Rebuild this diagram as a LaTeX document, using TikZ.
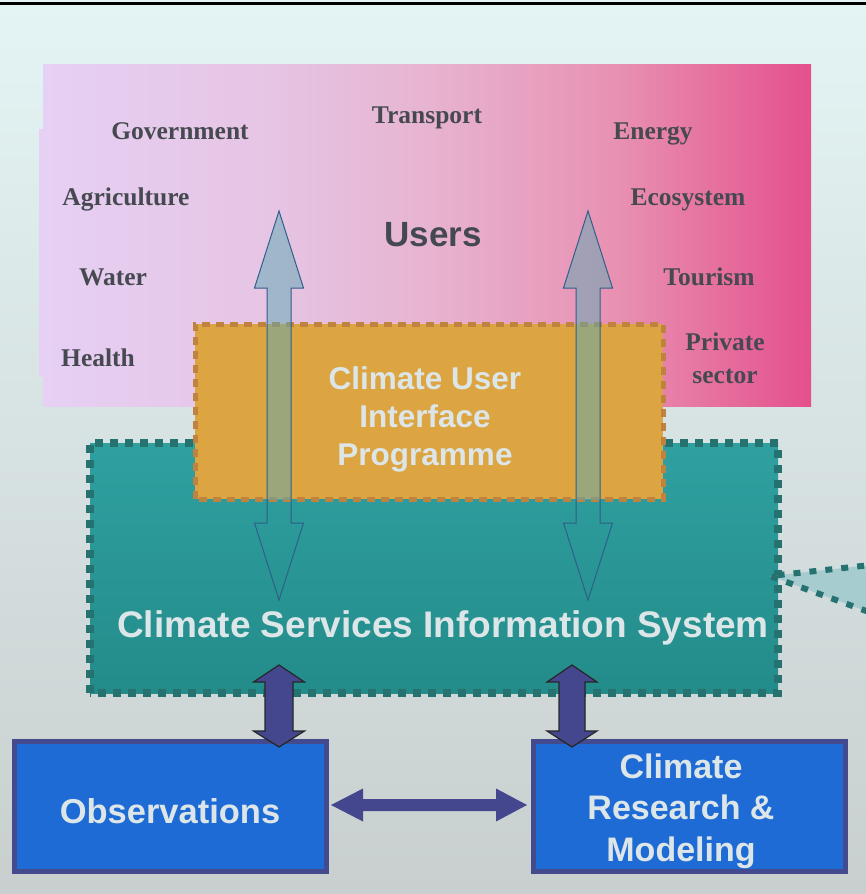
\documentclass[tikz,border=0pt]{standalone}
\usepackage{fontspec}
\setmainfont{Liberation Serif}
\setsansfont{Liberation Sans}
\definecolor{bgtop}{HTML}{E4F4F4}
\definecolor{bgbot}{HTML}{C9CFCF}
\definecolor{userl}{HTML}{E6D0F4}
\definecolor{userq}{HTML}{E6C4E4}
\definecolor{usermid}{HTML}{E7B4D0}
\definecolor{userr3}{HTML}{E890B2}
\definecolor{userr}{HTML}{E4508C}
\definecolor{labelgray}{HTML}{464A50}
\definecolor{usertxt}{HTML}{444850}
\definecolor{orfill}{HTML}{DDA542}
\definecolor{ordraw}{HTML}{BF823F}
\definecolor{tealtop}{HTML}{2FA0A0}
\definecolor{tealbot}{HTML}{238C8A}
\definecolor{tealdraw}{HTML}{267270}
\definecolor{callfill}{HTML}{A6CCD0}
\definecolor{arrfill}{HTML}{5BAAB4}
\definecolor{arrdraw}{HTML}{2F5F8A}
\definecolor{indigo}{HTML}{44478E}
\definecolor{boxblue}{HTML}{1F6BD5}
\definecolor{boxdraw}{HTML}{434A8E}
\definecolor{whitetxt}{HTML}{DCE6E8}
\pgfdeclarehorizontalshading{usersh}{100bp}{color(0bp)=(userl); color(25bp)=(userl); color(40bp)=(userq); color(50bp)=(usermid); color(62.5bp)=(userr3); color(75bp)=(userr); color(100bp)=(userr)}
\begin{document}
\begin{tikzpicture}[x=1pt,y=-1pt,
  lbl/.style={font=\bfseries\fontsize{25.5}{33}\selectfont, text=labelgray, inner sep=0, anchor=base, align=center},
  wt/.style={font=\sffamily\bfseries, text=whitetxt, align=center, inner sep=0},
  arrowline/.style={draw=arrdraw, line width=1pt, line join=miter},
  darkarrow/.style={fill=indigo, draw=black!85, line width=1.2pt, line join=miter},
  bluebox/.style={fill=boxblue, draw=boxdraw, line width=5pt}]
\useasboundingbox (0,0) rectangle (866,894);
\begin{scope}
\clip (0,0) rectangle (866,894);
\shade[top color=bgtop, bottom color=bgbot] (0,0) rectangle (866,894);
\draw[line width=3pt] (0,3) -- (866,3);
% users area
\fill[userl] (39,129) rectangle (44,377);
\shade[shading=usersh] (43,64) rectangle (811,406);
\node[font=\sffamily\bfseries\fontsize{35}{40}\selectfont, text=usertxt, inner sep=0] (users) at (433,235) {Users};
\node[lbl] (gov) at (180,139) {Government};
\node[lbl] (trans) at (427,123) {Transport};
\node[lbl] (energy) at (653,139) {Energy};
\node[lbl] (agri) at (126,205) {Agriculture};
\node[lbl] (eco) at (688,205) {Ecosystem};
\node[lbl] (water) at (113,285) {Water};
\node[lbl] (tour) at (709,285) {Tourism};
\node[lbl] (health) at (98,366) {Health};
\node[lbl] (priv) at (725,383) {Private\\sector};
% CSIS box
\shade[top color=tealtop, bottom color=tealbot] (90,443) rectangle (778,693);
\draw[tealdraw, line width=8pt, dash pattern=on 8pt off 7pt] (90,693) -- (90,443) -- (778,443) -- (778,693) -- cycle;
\node[wt, font=\sffamily\bfseries\fontsize{37}{42}\selectfont] (csis) at (443,628) {Climate Services Information System};
% callout
\fill[callfill] (770,576) -- (880,564) -- (880,616) -- cycle;
\draw[tealdraw, line width=6pt, dash pattern=on 7pt off 9pt] (880,564) -- (770,576) -- (880,616);
% CUIP box
\fill[orfill] (195,324) rectangle (663,499);
\draw[ordraw, line width=5pt, dash pattern=on 8pt off 6pt] (195,499) -- (195,324) -- (663,324) -- (663,499) -- cycle;
\node[wt, font=\sffamily\bfseries\fontsize{31.5}{38}\selectfont] (cuip) at (425,419) {Climate User\\Interface\\Programme};
% upper double arrows: fill visible only above the teal box
\foreach \cx in {279,588}{
  \begin{scope}
  \clip (0,0) rectangle (866,499);
  \fill[arrfill, fill opacity=0.5] (\cx,211) -- (\cx+24.5,288) -- (\cx+12,288) -- (\cx+12,523) -- (\cx+24.5,523) -- (\cx,600)
     -- (\cx-24.5,523) -- (\cx-12,523) -- (\cx-12,288) -- (\cx-24.5,288) -- cycle;
  \end{scope}
  \draw[arrowline] (\cx,211) -- (\cx+24.5,288) -- (\cx+12,288) -- (\cx+12,523) -- (\cx+24.5,523) -- (\cx,600)
     -- (\cx-24.5,523) -- (\cx-12,523) -- (\cx-12,288) -- (\cx-24.5,288) -- cycle;
}
% boxes
\node[bluebox, minimum width=312pt, minimum height=130pt, inner sep=0] (obs) at (170,806) {};
\node[wt, font=\sffamily\bfseries\fontsize{34.5}{40}\selectfont] at (170,811) {Observations};
\node[bluebox, minimum width=312pt, minimum height=130pt, inner sep=0] (res) at (689,806) {};
\node[wt, font=\sffamily\bfseries\fontsize{34}{41.5}\selectfont] at (681,811) {Climate\\Research \&\\Modeling};
% lower double arrows
\draw[darkarrow] (279,665) -- (304.5,682) -- (293,682) -- (293,731) -- (304.5,731) -- (279,747)
   -- (253.5,731) -- (265,731) -- (265,682) -- (253.5,682) -- cycle;
\draw[darkarrow] (572,665) -- (597,682) -- (585,682) -- (585,731) -- (597,731) -- (572,747)
   -- (547,731) -- (559,731) -- (559,682) -- (547,682) -- cycle;
% horizontal arrow
\fill[indigo] (331,805) -- (363,788.5) -- (363,799) -- (496,799) -- (496,788.5) -- (527,805)
   -- (496,821.5) -- (496,811) -- (363,811) -- (363,821.5) -- cycle;
\end{scope}
\end{tikzpicture}
\end{document}
